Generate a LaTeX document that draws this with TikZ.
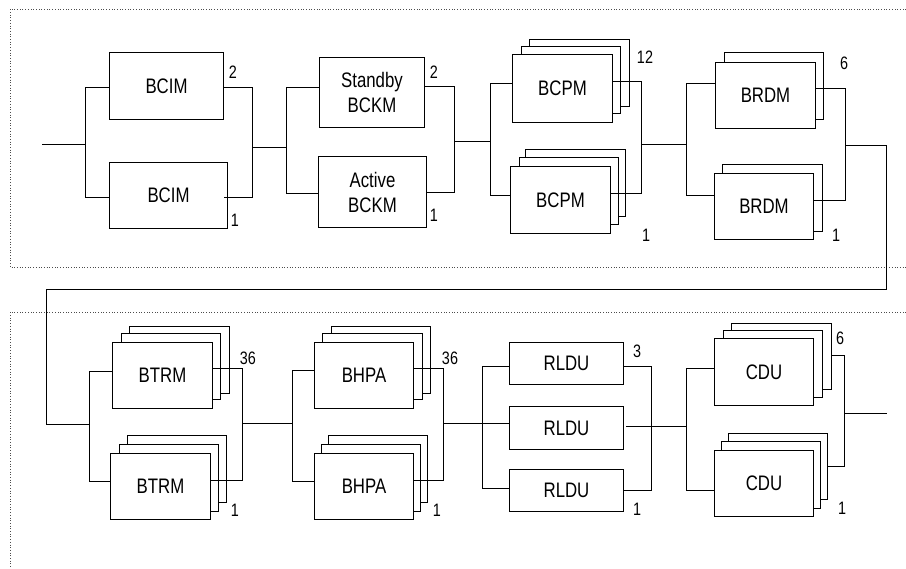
\documentclass[tikz,border=0pt]{standalone}
\usepackage{fontspec}
\setmainfont{Liberation Sans}[FakeStretch=0.8]
\usetikzlibrary{calc}
\tikzset{
  blk/.style={draw, fill=white, line width=1pt, inner sep=0pt, anchor=north west, align=center,
    font=\fontsize{21}{25}\selectfont},
  cnt/.style={font=\fontsize{18}{20}\selectfont, inner sep=0pt},
  wire/.style={line width=1pt},
  frame/.style={dotted, line width=0.7pt, black!70},
}
\newcommand{\bx}[6]{\node[blk, minimum width=#4pt, minimum height=#5pt] (#1) at (#2,#3) {#6};}
\begin{document}
\begin{tikzpicture}[x=1pt,y=-1pt]
\useasboundingbox (0,0) rectangle (906,569);
% frames
\draw[frame] (906,9) -- (10,9) -- (10,267) -- (906,267);
\draw[frame] (906,312) -- (10,312) -- (10,569);

% ---------- top row boxes
\bx{bcimB}{109}{52}{114}{67}{BCIM}
\bx{bcimA}{109}{162}{118}{66}{BCIM}
\bx{bckmB}{319}{57}{105}{70}{Standby\\BCKM}
\bx{bckmA}{318}{156}{108}{71}{Active\\BCKM}
\bx{bcpmBc}{529}{39}{100}{67}{}
\bx{bcpmBb}{521}{46}{99}{67}{}
\bx{bcpmB}{512}{54}{100}{68}{BCPM}
\bx{bcpmAc}{525}{149}{100}{67}{}
\bx{bcpmAb}{519}{157}{99}{67}{}
\bx{bcpmA}{510}{166}{100}{67}{BCPM}
\bx{brdmBb}{724}{52}{99}{67}{}
\bx{brdmB}{715}{62}{100}{66}{BRDM}
\bx{brdmAb}{722}{164}{100}{67}{}
\bx{brdmA}{714}{173}{99}{66}{BRDM}

% ---------- bottom row boxes
\bx{btrmBc}{129}{326}{100}{67}{}
\bx{btrmBb}{121}{333}{99}{66}{}
\bx{btrmB}{112}{342}{100}{66}{BTRM}
\bx{btrmAc}{127}{435}{99}{67}{}
\bx{btrmAb}{119}{444}{99}{67}{}
\bx{btrmA}{110}{453}{100}{66}{BTRM}
\bx{bhpaBc}{331}{326}{99}{67}{}
\bx{bhpaBb}{322}{333}{100}{66}{}
\bx{bhpaB}{314}{342}{99}{66}{BHPA}
\bx{bhpaAc}{328}{435}{99}{67}{}
\bx{bhpaAb}{321}{444}{99}{67}{}
\bx{bhpaA}{314}{453}{99}{66}{BHPA}
\bx{rlduC}{509}{342}{114}{42}{RLDU}
\bx{rlduB}{509}{406}{114}{43}{RLDU}
\bx{rlduA}{509}{469}{114}{42}{RLDU}
\bx{cduBc}{731}{323}{100}{66}{}
\bx{cduBb}{723}{330}{99}{67}{}
\bx{cduB}{714}{338}{99}{67}{CDU}
\bx{cduAc}{728}{433}{99}{66}{}
\bx{cduAb}{721}{441}{99}{67}{}
\bx{cduA}{714}{450}{99}{66}{CDU}

% ---------- counts
\node[cnt] (n1) at (233,72) {2};
\node[cnt] (n2) at (235,220) {1};
\node[cnt] (n3) at (434,72) {2};
\node[cnt] (n4) at (434,215) {1};
\node[cnt] (n5) at (645,57) {12};
\node[cnt] (n6) at (646,235) {1};
\node[cnt] (n7) at (844,63) {6};
\node[cnt] (n8) at (836,235) {1};
\node[cnt] (n9) at (248,358) {36};
\node[cnt] (n10) at (235,510) {1};
\node[cnt] (n11) at (450,358) {36};
\node[cnt] (n12) at (437,510) {1};
\node[cnt] (n13) at (637,351) {3};
\node[cnt] (n14) at (637,509) {1};
\node[cnt] (n15) at (840,338) {6};
\node[cnt] (n16) at (842,508) {1};

% ---------- bus coordinates
\coordinate (in) at (42,145);
\coordinate (L1t) at (85,88);   \coordinate (L1b) at (85,198);
\coordinate (R1t) at (252,88);  \coordinate (R1b) at (252,198);
\coordinate (L2t) at (286,88);  \coordinate (L2b) at (286,194);
\coordinate (R2t) at (454,87);  \coordinate (R2b) at (454,193);
\coordinate (L3t) at (490,84);  \coordinate (L3b) at (490,196);
\coordinate (R3t) at (641,82);  \coordinate (R3b) at (641,194);
\coordinate (L4t) at (686,84);  \coordinate (L4b) at (686,196);
\coordinate (R4t) at (845,89);  \coordinate (R4b) at (845,201);
\coordinate (L5t) at (89,372);  \coordinate (L5b) at (89,482);
\coordinate (R5t) at (242,369); \coordinate (R5b) at (242,481);
\coordinate (L6t) at (292,371); \coordinate (L6b) at (292,482);
\coordinate (R6t) at (443,369); \coordinate (R6b) at (443,481);
\coordinate (R6m) at (443,424);
\coordinate (L7t) at (482,367); \coordinate (L7b) at (482,489);
\coordinate (R7t) at (651,367); \coordinate (R7b) at (651,491);
\coordinate (L8t) at (686,369); \coordinate (L8b) at (686,491);
\coordinate (L8m) at (686,427);
\coordinate (R8t) at (844,356); \coordinate (R8b) at (844,467);
\coordinate (out) at (887,414);

\begin{scope}[wire]
% block 1
\draw (in) -- (in -| L1t);
\draw (L1t -| bcimB.west) -- (L1t) -- (L1b) -- (L1b -| bcimA.west);
\draw (R1t -| bcimB.east) -- (R1t) -- (R1b) -- ([xshift=-4pt]R1b -| bcimA.east);
\draw (252,148) -- (286,148);
% block 2
\draw (L2t -| bckmB.west) -- (L2t) -- (L2b) -- (L2b -| bckmA.west);
\draw (R2t -| bckmB.east) -- (R2t) -- (R2b) -- (R2b -| bckmA.east);
\draw (454,142) -- (490,142);
% block 3
\draw (L3t -| bcpmB.west) -- (L3t) -- (L3b) -- (L3b -| bcpmA.west);
\draw (R3t -| bcpmB.east) -- (R3t) -- (R3b) -- (R3b -| bcpmA.east);
\draw (641,145) -- (686,145);
% block 4
\draw (L4t -| brdmB.west) -- (L4t) -- (L4b) -- (L4b -| brdmA.west);
\draw (R4t -| brdmB.east) -- (R4t) -- (R4b) -- (R4b -| brdmA.east);
% link to lower row
\draw (845,146) -- (886,146) -- (886,290) -- (46,290) -- (46,425) -- (89,425);
% block 5
\draw (L5t -| btrmB.west) -- (L5t) -- (L5b) -- (L5b -| btrmA.west);
\draw (R5t -| btrmB.east) -- (R5t) -- (R5b) -- (R5b -| btrmA.east);
\draw (242,424) -- (292,424);
% block 6
\draw (L6t -| bhpaB.west) -- (L6t) -- (L6b) -- (L6b -| bhpaA.west);
\draw (R6t -| bhpaB.east) -- (R6t) -- (R6b) -- (R6b -| bhpaA.east);
\draw (R6m) -- (R6m -| rlduB.west);
% block 7
\draw (L7t -| rlduC.west) -- (L7t) -- (L7b) -- (L7b -| rlduA.west);
\draw (R7t -| rlduC.east) -- (R7t) -- (R7b) -- (R7b -| rlduA.east);
\draw ([xshift=2pt]L8m -| rlduB.east) -- (L8m);
% block 8
\draw (L8t -| cduB.west) -- (L8t) -- (L8b) -- (L8b -| cduA.west);
\draw (R8t -| cduBc.east) -- (R8t) -- (R8b) -- (R8b -| cduAc.east);
\draw (out -| R8t) -- (out);
\end{scope}
\end{tikzpicture}
\end{document}
